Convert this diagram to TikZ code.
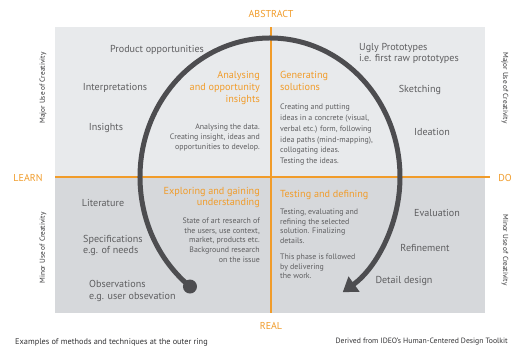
\documentclass[tikz,border=0pt]{standalone}
\usepackage{fontspec}
\setmainfont{PT Sans}
\usetikzlibrary{arrows.meta}
\definecolor{orng}{HTML}{F19C2A}
\definecolor{topgray}{HTML}{E8EAEC}
\definecolor{botgray}{HTML}{D6D8DB}
\definecolor{arcgray}{HTML}{4D4D50}
\definecolor{txt}{HTML}{5E5E60}
\definecolor{dark}{HTML}{333335}
\tikzset{
  method/.style={font=\fontsize{10.1}{11}\selectfont, text=txt, inner sep=0pt},
  head/.style={font=\fontsize{10.2}{12}\selectfont, text=orng, inner sep=0pt},
  body/.style={font=\fontsize{7.9}{9.7}\selectfont, text=txt, inner sep=0pt},
  axislab/.style={font=\fontsize{10}{11}\selectfont, text=orng, inner sep=0pt},
  side/.style={font=\fontsize{7.3}{8}\selectfont, text=dark, inner sep=0pt},
  foot/.style={text=dark, inner sep=0pt},
  axisline/.style={draw=orng, line width=2.8pt},
  ring/.style={draw=arcgray, line width=5pt}
}
\begin{document}
\begin{tikzpicture}[x=1pt,y=-1pt]
\useasboundingbox[fill=white] (0,0) rectangle (523,356);
% backgrounds
\fill[topgray] (55,27) rectangle (485,177);
\fill[botgray] (55,177) rectangle (485,313);
% axes
\draw[axisline] (271,27) -- (271,313);
\draw[axisline] (55,177) -- (490,177);
\node[axislab] (abstract) at (271,14) {ABSTRACT};
\node[axislab] (learn) at (28,178) {LEARN};
\node[axislab] (do) at (505,178) {DO};
\node[axislab] (real) at (271,326) {REAL};
% ring
\coordinate (ctr) at (270,177);
\coordinate (ringstart) at ([shift={(232:130pt and 139pt)}]ctr);
\draw[ring, -{Triangle[length=14pt,width=18pt]}] (ringstart) arc[start angle=232, end angle=-56, x radius=130pt, y radius=139pt];
\fill[arcgray] (ringstart) circle (7pt);
% side labels
\node[side, rotate=90] (majl) at (43,88) {Major Use of Creativity};
\node[side, rotate=-90] (majr) at (505,88) {Major Use of Creativity};
\node[side, rotate=90] (minl) at (43,248) {Minor Use of Creativity};
\node[side, rotate=-90] (minr) at (505,250) {Minor Use of Creativity};
% quadrant headers and bodies
\node[head, anchor=north east, align=right] (h1) at (260,71) {Analysing\\and opportunity\\insights};
\node[body, anchor=north east, align=right] (b1) at (260,123.8) {Analysing the data.\\Creating insight, ideas and\\opportunities to develop.};
\node[head, anchor=north west, align=left] (h2) at (280,71) {Generating\\solutions};
\node[body, anchor=north west, align=left, font=\fontsize{7.9}{10.8}\selectfont] (b2) at (280,103.8) {Creating and putting\\ideas in a concrete (visual,\\verbal etc.) form, following\\idea paths (mind-mapping),\\collogating ideas.\\Testing the ideas.};
\node[head, anchor=north east, align=right, font=\fontsize{10.2}{11}\selectfont] (h3) at (260,187) {Exploring and gaining\\understanding};
\node[body, anchor=north east, align=right, font=\fontsize{7.9}{9.6}\selectfont] (b3) at (260,217.8) {State of art research of\\the users, use context,\\market, products etc.\\Background research\\on the issue};
\node[head, anchor=north west, align=left] (h4) at (280,190) {Testing and defining};
\node[body, anchor=north west, align=left, font=\fontsize{7.9}{9.5}\selectfont] (b4) at (280,208.8) {Testing, evaluating and\\refining the selected\\solution. Finalizing\\details.\\[7pt]This phase is followed\\by delivering\\the work.};
% methods
\node[method] (m1) at (157,50) {Product opportunities};
\node[method] (m2) at (115,88) {Interpretations};
\node[method] (m3) at (106,128) {Insights};
\node[method, anchor=north west, align=left] (m4) at (359,43) {Ugly Prototypes\\i.e. first raw prototypes};
\node[method] (m5) at (420,90) {Sketching};
\node[method] (m6) at (432,132) {Ideation};
\node[method] (m7) at (103,203) {Literature};
\node[method, anchor=north west, align=left] (m8) at (83,235) {Specifications\\e.g. of needs};
\node[method, anchor=north west, align=left, font=\fontsize{10.1}{12}\selectfont] (m9) at (89,280) {Observations\\e.g. user obsevation};
\node[method] (m10) at (437,213) {Evaluation};
\node[method] (m11) at (425,248) {Refinement};
\node[method] (m12) at (404,281) {Detail design};
% footers
\node[foot, anchor=west, font=\fontsize{8.3}{9}\selectfont] (f1) at (15,342) {Examples of methods and techniques at the outer ring};
\node[foot, anchor=east, font=\fontsize{7.7}{9}\selectfont] (f2) at (508,342) {Derived from IDEO's Human-Centered Design Toolkit};
\end{tikzpicture}
\end{document}
